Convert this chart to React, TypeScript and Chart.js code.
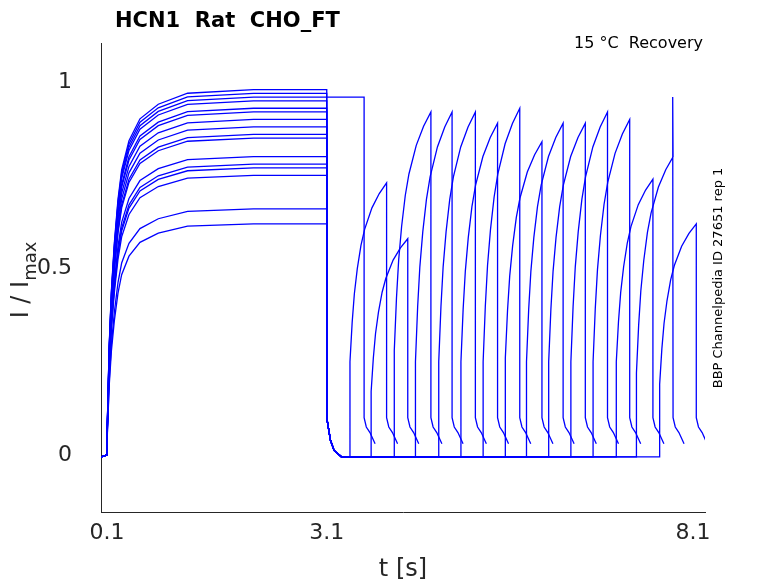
import React, { useEffect, useRef } from "react";
import { Chart, registerables } from "chart.js";
Chart.register(...registerables);

const xTicks = [0.1, 3.1, 8.1];
const yTicks = [0, 0.5, 1];
// activation shape (offset s from 0.1, fraction of plateau)
const actOffsets = [0, 0.03, 0.06, 0.1, 0.15, 0.2, 0.3, 0.45, 0.7, 1.1, 2.0, 3.0];
const actFracs = [0.05, 0.3, 0.45, 0.58, 0.7, 0.78, 0.86, 0.92, 0.96, 0.99, 1, 1];
// recovery test pulse shape (offset s from pulse start, fraction start->peak)
const recOffsets = [0, 0.03, 0.06, 0.1, 0.15, 0.2, 0.3, 0.4, 0.5];
const recFracs = [0, 0.22, 0.38, 0.52, 0.65, 0.74, 0.86, 0.94, 1];
const plateaus = [0.96, 0.66, 0.62, 0.75, 0.77, 0.8, 0.85, 0.88, 0.92, 0.95, 0.97, 0.98, 0.93, 0.9, 0.78, 0.86];
const pulseStarts = [3.417, 3.706, 4.022, 4.311, 4.629, 4.932, 5.235, 5.538, 5.827, 6.13, 6.433, 6.736, 7.053, 7.328, 7.645];
const pulseStartVals = [0.25, 0.17, 0.28, 0.25, 0.25, 0.25, 0.25, 0.26, 0.25, 0.25, 0.25, 0.25, 0.25, 0.22, 0.19];
const pulsePeaks = [0.73, 0.58, 0.92, 0.92, 0.92, 0.89, 0.93, 0.84, 0.89, 0.89, 0.92, 0.9, 0.74, 0.8, 0.62];
const pulseDur = 0.5;

function buildTrace(i: number) {
  const pts: { x: number; y: number }[] = [{ x: 0.02, y: -0.005 }, { x: 0.1, y: 0 }];
  const p = plateaus[i];
  actOffsets.forEach((o, k) => pts.push({ x: 0.1 + o, y: p * actFracs[k] }));
  let end: number;
  if (i === 0) {
    pts.push({ x: 3.1, y: 0.96 }, { x: 3.61, y: 0.96 });
    end = 3.61;
  } else {
    const j = i - 1;
    pts.push({ x: 3.1, y: 0.1 }, { x: 3.15, y: 0.04 }, { x: 3.2, y: 0.012 }, { x: 3.3, y: -0.005 });
    const s = pulseStarts[j];
    pts.push({ x: s, y: -0.005 });
    recOffsets.forEach((o, k) =>
      pts.push({ x: s + o, y: pulseStartVals[j] + (pulsePeaks[j] - pulseStartVals[j]) * recFracs[k] })
    );
    end = s + pulseDur;
    if (j === 13) pts.push({ x: end - 0.005, y: 0.96 });
  }
  pts.push({ x: end, y: 0.1 }, { x: end + 0.03, y: 0.075 }, { x: end + 0.08, y: 0.06 }, { x: end + 0.15, y: 0.03 });
  return pts;
}

export default function App() {
  const ref = useRef<HTMLCanvasElement>(null);
  useEffect(() => {
    const datasets = plateaus.map((_, i) => ({
      data: buildTrace(i),
      borderColor: "#0000ff",
      borderWidth: 1.3,
      pointRadius: 0,
      tension: 0,
    }));
    const textPlugin = {
      id: "texts",
      afterDraw(chart: any) {
        const c = chart.ctx;
        c.save();
        c.fillStyle = "#000";
        c.font = "bold 21px 'DejaVu Sans'";
        c.textBaseline = "alphabetic";
        c.textAlign = "left";
        c.fillText("HCN1  Rat  CHO_FT", 115, 27);
        c.font = "16px 'DejaVu Sans'";
        c.textAlign = "right";
        c.fillText("15 °C  Recovery", 703, 48);
        c.fillStyle = "#262626";
        c.font = "24px 'DejaVu Sans'";
        c.textAlign = "center";
        c.fillText("t [s]", 403, 576);
        c.save();
        c.translate(28, 280);
        c.rotate(-Math.PI / 2);
        c.textAlign = "left";
        c.font = "24px 'DejaVu Sans'";
        const main = "I / I";
        const w = c.measureText(main).width;
        c.font = "18px 'DejaVu Sans'";
        const sub = "max";
        const ws = c.measureText(sub).width;
        const start = -(w + ws) / 2;
        c.font = "24px 'DejaVu Sans'";
        c.fillText(main, start, 0);
        c.font = "18px 'DejaVu Sans'";
        c.fillText(sub, start + w, 8);
        c.restore();
        c.save();
        c.fillStyle = "#000";
        c.translate(722, 278);
        c.rotate(-Math.PI / 2);
        c.font = "13px 'DejaVu Sans'";
        c.textAlign = "center";
        c.fillText("BBP Channelpedia ID 27651 rep 1", 0, 0);
        c.restore();
        c.restore();
      },
    };
    const chart = new Chart(ref.current!, {
      type: "line",
      data: { datasets },
      plugins: [textPlugin],
      options: {
        animation: false,
        responsive: false,
        layout: { padding: { top: 43, right: 73, left: 0, bottom: 0 } },
        plugins: { legend: { display: false }, tooltip: { enabled: false }, title: { display: false } },
        scales: {
          x: {
            type: "linear",
            min: 0.018,
            max: 8.264,
            grid: { display: false, tickLength: 5 },
            border: { display: true, color: "#262626" },
            afterBuildTicks: (s: any) => { s.ticks = xTicks.map((v) => ({ value: v })); },
            afterFit: (s: any) => { s.height = 71; },
            ticks: { color: "#262626", font: { size: 22, family: "DejaVu Sans" }, maxRotation: 0, callback: (v: any) => String(v) },
          },
          y: {
            min: -0.153,
            max: 1.105,
            grid: { display: false, tickLength: 5 },
            border: { display: true, color: "#262626" },
            afterBuildTicks: (s: any) => { s.ticks = yTicks.map((v) => ({ value: v })); },
            afterFit: (s: any) => { s.width = 101; },
            ticks: { color: "#262626", font: { size: 22, family: "DejaVu Sans" }, padding: 24, callback: (v: any) => String(v) },
          },
        },
      },
    });
    return () => chart.destroy();
  }, []);
  return (
    <div style={{ position: "absolute", left: 0, top: 0, background: "#fff" }}>
      <canvas ref={ref} width={778} height={583} style={{ width: 778, height: 583 }} />
    </div>
  );
}
